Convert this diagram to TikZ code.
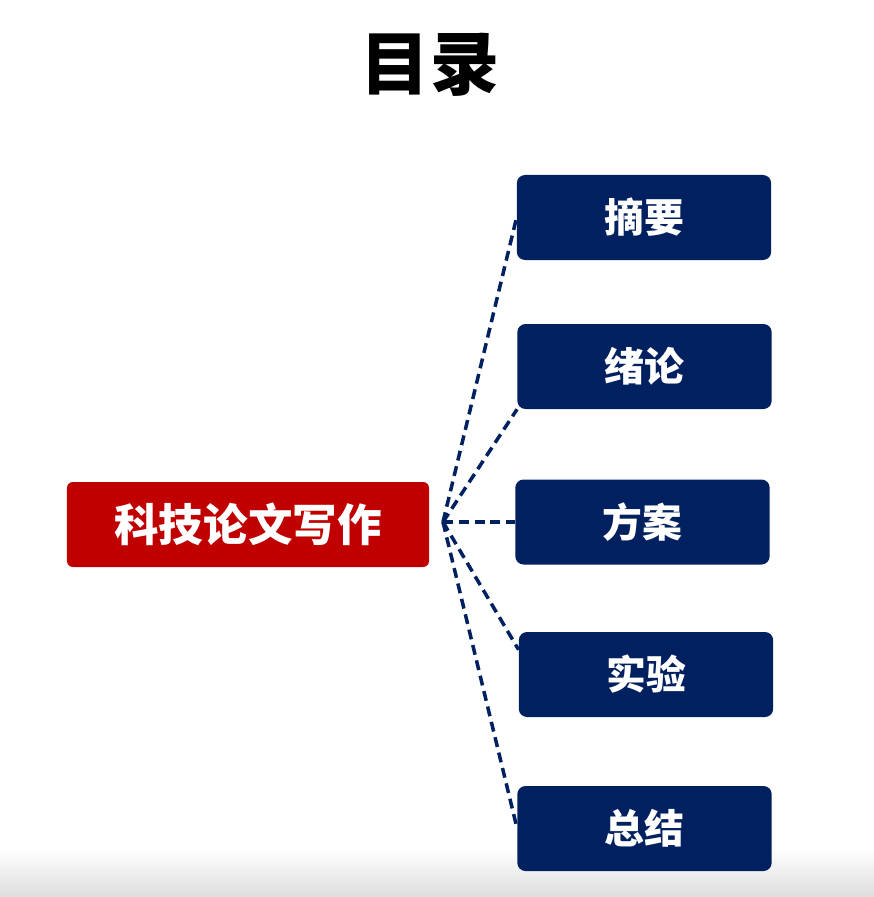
\documentclass[tikz,border=0pt]{standalone}
\usepackage{fontspec}
\usepackage{xcolor}
\usepackage{tikz}
\usetikzlibrary{calc, positioning}
\newfontfamily\cjk{Noto Sans CJK SC}
\definecolor{navy}{RGB}{0,32,96}
\definecolor{darkred}{RGB}{192,0,0}
\tikzset{
    itembox/.style={fill=navy, rounded corners=7pt, minimum width=7.63cm, minimum height=2.55cm,
        text=white, font=\cjk\bfseries\fontsize{34}{40}\selectfont},
    mainbox/.style={fill=darkred, rounded corners=5pt, minimum width=10.86cm, minimum height=2.55cm,
        text=white, font=\cjk\bfseries\fontsize{38}{44}\selectfont},
    link/.style={draw=navy, line width=3pt, dash pattern=on 8.5pt off 5pt}
}

\begin{document}
\begin{tikzpicture}[x=0.03cm, y=-0.03cm]
    \useasboundingbox (0,0) rectangle (874,897);
    % Nền dưới
    \shade[top color=white, bottom color=black!13] (0,848) rectangle (874,897);

    % Tiêu đề
    \node (title) at (430,65) {\cjk\bfseries\fontsize{59}{66}\selectfont 目录};

    % Khối chính
    \node[mainbox] (main) at (248,524.5) {科技论文写作};
    \coordinate (hub) at (443,522);

    % Các mục
    \node[itembox] (abs) at (644,217.5) {摘要};
    \node[itembox] (intro) at (644.5,366.5) {绪论};
    \node[itembox] (plan) at (642.5,522) {方案};
    \node[itembox] (exp) at (646,674.5) {实验};
    \node[itembox] (sum) at (644.5,828.5) {总结};

    % Đường nối
    \draw[link] (hub) -- (abs.west);
    \draw[link] (hub) -- (intro.south west);
    \draw[link] (hub) -- (plan.west);
    \draw[link] (hub) -- (exp.169);
    \draw[link] (hub) -- (sum.west);
\end{tikzpicture}
\end{document}
